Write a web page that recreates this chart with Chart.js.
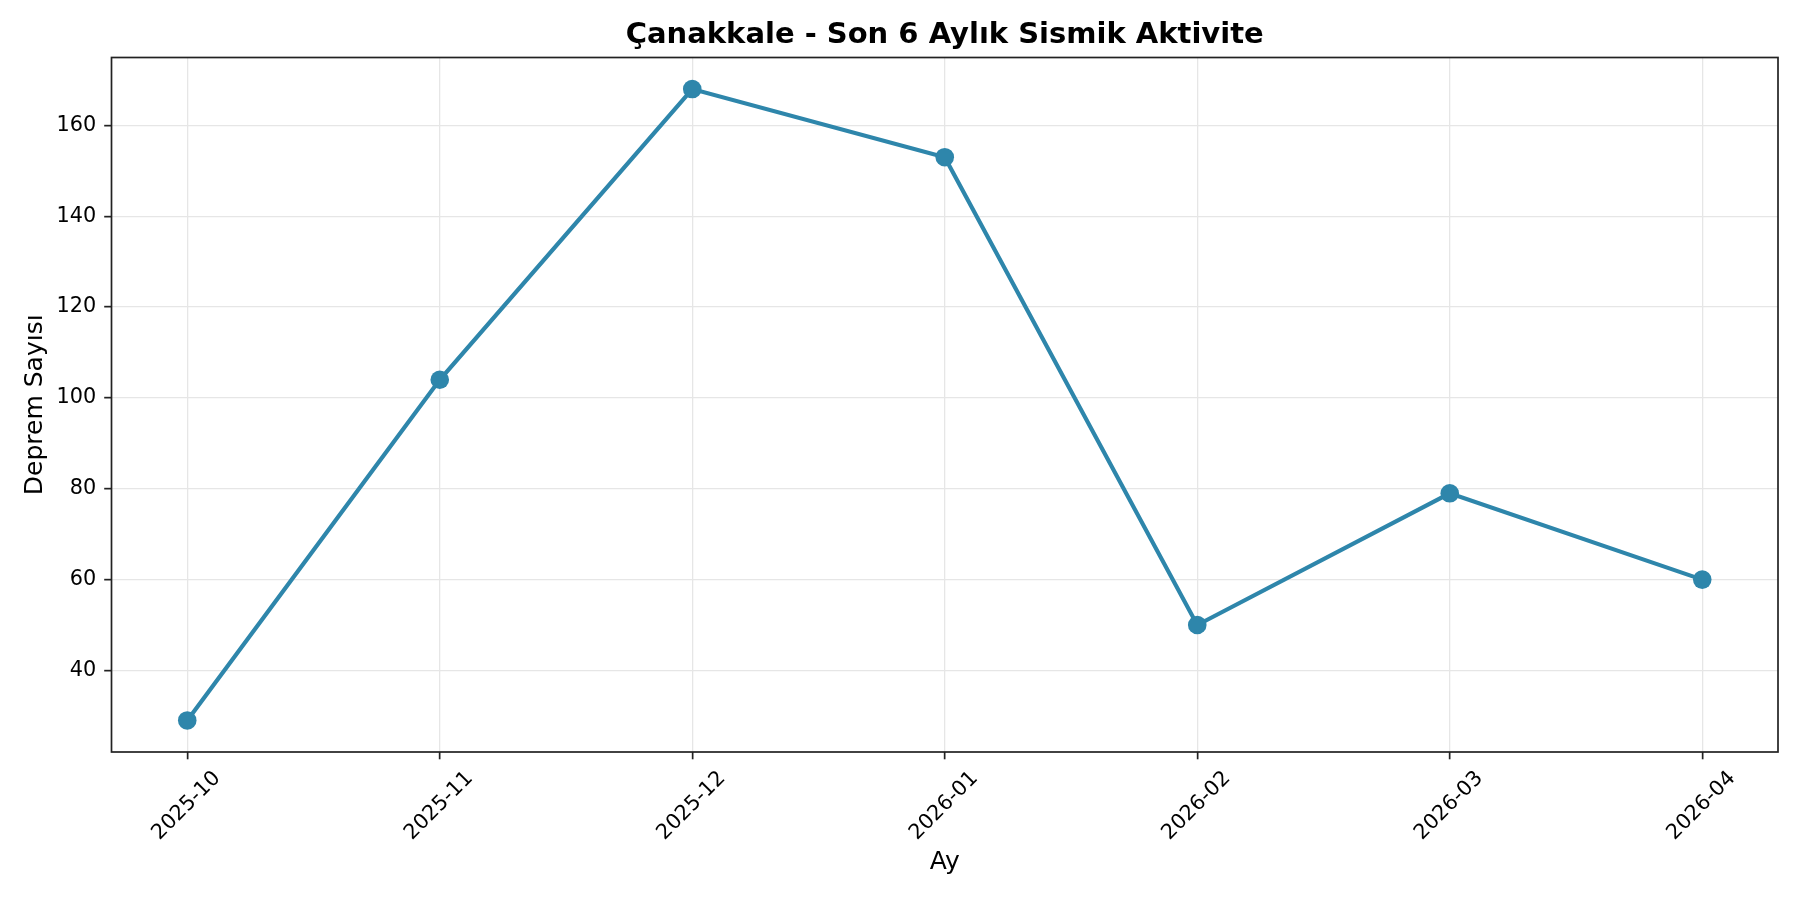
<!DOCTYPE html>
<html>
<head>
<meta charset="utf-8">
<script src="https://cdn.jsdelivr.net/npm/chart.js@4"></script>
<style>
  html, body { margin: 0; padding: 0; background: #fff; }
  canvas { display: block; }
</style>
</head>
<body>
<canvas id="myChart" width="1800" height="900"></canvas>
<script>
const months = ["2025-10", "2025-11", "2025-12", "2026-01", "2026-02", "2026-03", "2026-04"];
const counts = [29, 104, 168, 153, 50, 79, 60];
const yTicks = [40, 60, 80, 100, 120, 140, 160];

const titleText = "Çanakkale - Son 6 Aylık Sismik Aktivite";
const lineColor = "#2E86AB";
const font = "'DejaVu Sans', 'Liberation Sans', sans-serif";

const points = months.map((m, i) => ({ x: i, y: counts[i] }));

// title and the closed frame around the plot, like matplotlib draws them
const framePlugin = {
  id: "frame",
  afterDraw(chart) {
    const { ctx, chartArea: a } = chart;
    ctx.save();
    ctx.strokeStyle = "#222";
    ctx.lineWidth = 1.7;
    ctx.strokeRect(a.left, a.top, a.right - a.left, a.bottom - a.top);
    ctx.fillStyle = "#000";
    ctx.font = "bold 29px " + font;
    ctx.textAlign = "center";
    ctx.textBaseline = "middle";
    ctx.fillText(titleText, (a.left + a.right) / 2, 35);
    ctx.restore();
  },
};

const config = {
  type: "line",
  data: {
    datasets: [
      {
        label: "Deprem Sayısı",
        data: points,
        borderColor: lineColor,
        backgroundColor: lineColor,
        borderWidth: 4.2,
        pointRadius: 9.3,
        pointHoverRadius: 9.3,
        pointBorderWidth: 0,
        pointBackgroundColor: lineColor,
        tension: 0,
        clip: false,
      },
    ],
  },
  options: {
    responsive: false,
    animation: false,
    devicePixelRatio: 1,
    layout: { padding: { top: 57.5, right: 22, left: 0, bottom: 0 } },
    plugins: {
      legend: { display: false },
      title: { display: false },
      tooltip: { enabled: false },
    },
    scales: {
      x: {
        type: "linear",
        min: -0.3,
        max: 6.3,
        afterFit: (s) => { s.height = 148; },
        afterBuildTicks: (s) => { s.ticks = months.map((m, i) => ({ value: i })); },
        border: { display: false },
        grid: {
          color: "#e6e6e6",
          lineWidth: 1.3,
          drawTicks: true,
          tickLength: 7.3,
          tickColor: "#222",
          tickWidth: 1.7,
        },
        ticks: {
          callback: (v) => months[v],
          minRotation: 45,
          maxRotation: 45,
          padding: 7,
          labelOffset: 30,
          color: "#000",
          font: { family: font, size: 20.8 },
        },
        title: {
          display: true,
          text: "Ay",
          color: "#000",
          font: { family: font, size: 25 },
          padding: { top: 0, bottom: 23 },
        },
      },
      y: {
        min: 22.05,
        max: 174.95,
        afterFit: (s) => { s.width = 111.5; },
        afterBuildTicks: (s) => { s.ticks = yTicks.map((v) => ({ value: v })); },
        border: { display: false },
        grid: {
          color: "#e6e6e6",
          lineWidth: 1.3,
          drawTicks: true,
          tickLength: 7.3,
          tickColor: "#222",
          tickWidth: 1.7,
        },
        ticks: {
          padding: 8,
          color: "#000",
          font: { family: font, size: 20.8 },
        },
        title: {
          display: true,
          text: "Deprem Sayısı",
          color: "#000",
          font: { family: font, size: 25 },
          padding: { top: 20, bottom: 0 },
        },
      },
    },
  },
  plugins: [framePlugin],
};

let myChart = new Chart(document.getElementById("myChart"), config);
</script>
</body>
</html>
